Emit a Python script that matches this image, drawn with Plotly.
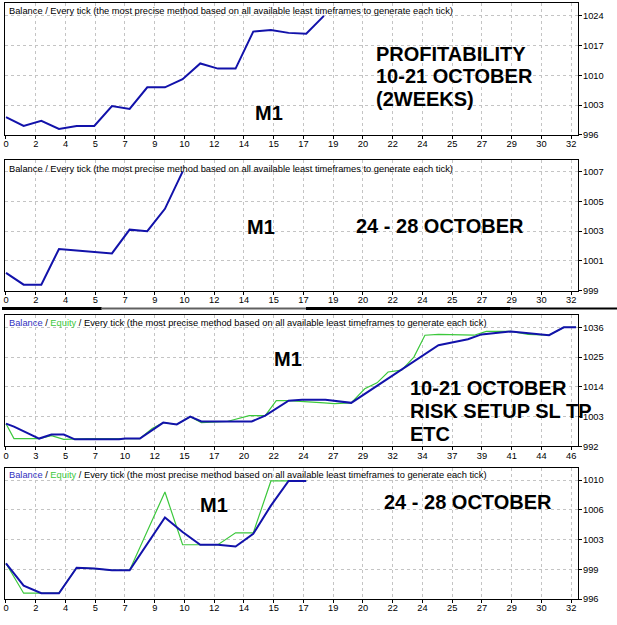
import plotly.graph_objects as go

W, H = 617, 625

# ---------------- data ----------------
# Panel 1: balance, 10-21 October
p1_trade = [0, 1, 2, 3, 4, 5, 6, 7, 8, 9, 10, 11, 12, 13, 14, 15, 16, 17, 18]
p1_balance = [1000.2, 998.1, 999.3, 997.4, 998.1, 998.1, 1002.8, 1002.1, 1007.2, 1007.2,
              1009.1, 1012.8, 1011.6, 1011.6, 1020.3, 1020.7, 1020.0, 1019.8, 1024.0]

# Panel 2: balance, 24-28 October
p2_trade = [0, 1, 2, 3, 4, 5, 6, 7, 8, 9, 10]
p2_balance = [1000.2, 999.4, 999.4, 1001.8, 1001.7, 1001.6, 1001.5, 1003.1, 1003.0, 1004.5, 1007.0]

# Panel 3: balance / equity, 10-21 October (risk setup)
p3_bal_x = [0, 0.65, 2.7, 3.7, 4.7, 5.6, 7.0, 9.2, 9.7, 10.9, 12.8, 13.9, 15.0, 15.9, 17.4,
            20.0, 21.1, 23.0, 24.1, 26.0, 28.1, 35.2, 37.6, 38.7, 41.1, 43.0, 44.2, 45.4, 46.4]
p3_bal_y = [1000.4, 999.3, 994.9, 996.4, 996.4, 994.6, 994.6, 994.6, 994.9, 994.9, 1000.8,
            1000.1, 1003.0, 1001.2, 1001.2, 1001.2, 1003.4, 1008.9, 1009.2, 1009.2, 1008.1,
            1029.4, 1031.6, 1033.4, 1034.5, 1033.8, 1033.1, 1036.0, 1036.0]
p3_eq_x = [0, 0.65, 2.7, 3.7, 4.7, 6.6, 9.2, 10.9, 11.9, 12.8, 13.9, 15.0, 15.9, 18.0, 19.8,
           21.1, 22.0, 23.0, 25.9, 26.7, 28.1, 29.2, 30.2, 31.1, 32.2, 33.2, 34.1, 35.2, 38.1,
           39.1, 41.1, 42.5, 44.2, 45.4, 46.4]
p3_eq_y = [1000.4, 994.9, 994.9, 996.0, 994.6, 994.9, 994.9, 994.9, 998.6, 1000.8, 1000.1,
           1003.0, 1000.8, 1001.2, 1003.4, 1003.4, 1008.9, 1008.9, 1008.1, 1007.8, 1008.1,
           1013.3, 1015.5, 1019.5, 1020.2, 1025.0, 1033.1, 1033.4, 1033.1, 1034.5, 1034.5,
           1033.4, 1033.1, 1036.0, 1036.0]

# Panel 4: balance / equity, 24-28 October
p4_trade = [0, 1, 2, 3, 4, 5, 6, 7, 9, 10, 11, 12, 13, 14, 15, 16, 17]
p4_balance = [1000.2, 997.6, 996.7, 996.7, 999.7, 999.6, 999.4, 999.4, 1005.6, 1003.9,
              1002.4, 1002.4, 1002.2, 1003.7, 1007.0, 1009.9, 1009.9]
p4_equity = [1000.2, 996.7, 996.7, 996.7, 999.7, 999.6, 999.4, 999.4, 1008.6, 1002.4,
             1002.4, 1002.4, 1003.8, 1003.8, 1009.9, 1009.9, 1009.9]

# tick labels
x_labels_32 = ["0", "2", "4", "5", "7", "9", "10", "12", "14", "15", "17", "19", "20", "22",
               "24", "25", "27", "29", "30", "32"]
x_labels_46 = ["0", "3", "5", "7", "10", "12", "15", "17", "20", "22", "24", "27", "29", "32",
               "34", "37", "39", "41", "44", "46"]
y1_ticks = [996, 1003, 1010, 1017, 1024]
y2_ticks = [999, 1001, 1003, 1005, 1007]
y3_ticks = [992, 1003, 1014, 1025, 1036]
y4_ticks = [996, 999.5, 1003, 1006.5, 1010]
y4_labels = ["996", "999", "1003", "1006", "1010"]

BLUE = "#1212aa"
GREEN = "#3cc83c"
FONT = "Liberation Sans"

# ---------------- geometry helpers ----------------
def px(x):
    return x / W


def py(y):
    return 1 - y / H


# plot boxes (left, top, right, bottom) in pixels
boxes = [(3, 3, 578, 136), (3, 161, 578, 293), (3, 318, 578, 450), (3, 472, 578, 604)]

fig = go.Figure()

fig.add_trace(go.Scatter(x=p1_trade, y=p1_balance, mode="lines",
                         line=dict(color=BLUE, width=2), xaxis="x", yaxis="y"))
fig.add_trace(go.Scatter(x=p2_trade, y=p2_balance, mode="lines",
                         line=dict(color=BLUE, width=2), xaxis="x2", yaxis="y2"))
fig.add_trace(go.Scatter(x=p3_eq_x, y=p3_eq_y, mode="lines",
                         line=dict(color=GREEN, width=1.2), xaxis="x3", yaxis="y3"))
fig.add_trace(go.Scatter(x=p3_bal_x, y=p3_bal_y, mode="lines",
                         line=dict(color=BLUE, width=2), xaxis="x3", yaxis="y3"))
fig.add_trace(go.Scatter(x=p4_trade, y=p4_equity, mode="lines",
                         line=dict(color=GREEN, width=1.2), xaxis="x4", yaxis="y4"))
fig.add_trace(go.Scatter(x=p4_trade, y=p4_balance, mode="lines",
                         line=dict(color=BLUE, width=2), xaxis="x4", yaxis="y4"))

# axis configuration
x_span = [(32, x_labels_32), (32, x_labels_32), (46, x_labels_46), (32, x_labels_32)]
# pixel position of first / last x tick label
X0_PX, XN_PX = 4, 571
y_cfg = [
    (y1_ticks, [str(v) for v in y1_ticks]),
    (y2_ticks, [str(v) for v in y2_ticks]),
    (y3_ticks, [str(v) for v in y3_ticks]),
    (y4_ticks, y4_labels),
]
# pixel row of first/last y tick in each panel
y_tick_px = [(136, 16), (293, 173), (450, 330), (604, 484)]

layout = dict(
    width=W, height=H, autosize=False,
    margin=dict(l=0, r=0, t=0, b=0),
    paper_bgcolor="white", plot_bgcolor="white",
    showlegend=False,
    font=dict(family=FONT, size=9, color="black"),
)

axis_common = dict(
    showline=True, linecolor="black", linewidth=1, mirror=True,
    showgrid=True, gridcolor="#c4c4c4", gridwidth=1, griddash="3px,3px",
    zeroline=False, ticks="outside", ticklen=3, tickcolor="black",
    tickfont=dict(family=FONT, size=9.3, color="black"),
)

for i, (l, t, r, b) in enumerate(boxes):
    n = "" if i == 0 else str(i + 1)
    xmax, xlabels = x_span[i]
    # x scale: tick 0 at X0_PX, tick xmax at XN_PX
    k = (XN_PX - X0_PX) / xmax
    xr = [(l - X0_PX) / k, (r - X0_PX) / k]
    tickvals_x = [xmax * j / (len(xlabels) - 1) for j in range(len(xlabels))]
    yt, ylabels = y_cfg[i]
    ybot_px, ytop_px = y_tick_px[i]
    ky = (ybot_px - ytop_px) / (yt[-1] - yt[0])
    yr = [yt[0] - (b - ybot_px) / ky, yt[0] + (ybot_px - t) / ky]
    layout["xaxis" + n] = dict(
        axis_common, domain=[px(l), px(r)], range=xr,
        tickvals=tickvals_x, ticktext=xlabels,
        anchor="y" + n, ticklabelstandoff=-3,
    )
    layout["yaxis" + n] = dict(
        axis_common, domain=[py(b), py(t)], range=yr,
        tickvals=yt, ticktext=ylabels, side="right",
        anchor="x" + n, ticklabelstandoff=-1,
    )

fig.update_layout(**layout)

# ---------------- annotations ----------------
ann = []
header_tail = " / Every tick (the most precise method based on all available least timeframes to generate each tick)"
headers = [
    ("Balance" + header_tail, 11),
    ("Balance" + header_tail, 170),
    (f"<span style='color:#3030c0'>Balance</span> / <span style='color:{GREEN}'>Equity</span>" + header_tail, 326),
    (f"<span style='color:#3030c0'>Balance</span> / <span style='color:{GREEN}'>Equity</span>" + header_tail, 479),
]
for text, y in headers:
    ann.append(dict(text=text, x=px(5), y=py(y), xref="paper", yref="paper",
                    xanchor="left", yanchor="middle", showarrow=False,
                    font=dict(family=FONT, size=9.3, color="black")))

big = dict(family=FONT, size=20, color="black")
labels = [
    ("<b>M1</b>", 268, 114, "center"),
    ("<b>PROFITABILITY</b>", 373, 54, "left"),
    ("<b>10-21 OCTOBER</b>", 373, 77, "left"),
    ("<b>(2WEEKS)</b>", 373, 100, "left"),
    ("<b>M1</b>", 260, 229, "center"),
    ("<b>24 - 28 OCTOBER</b>", 353, 228, "left"),
    ("<b>M1</b>", 287, 362, "center"),
    ("<b>10-21 OCTOBER</b>", 407, 391, "left"),
    ("<b>RISK SETUP SL TP</b>", 407, 414, "left"),
    ("<b>ETC</b>", 407, 437, "left"),
    ("<b>M1</b>", 213, 509, "center"),
    ("<b>24 - 28 OCTOBER</b>", 381, 506, "left"),
]
for text, x, y, anc in labels:
    ann.append(dict(text=text, x=px(x), y=py(y), xref="paper", yref="paper",
                    xanchor=anc, yanchor="middle", showarrow=False, font=big))

fig.update_layout(annotations=ann)

# separator line between the two halves
shapes = [
    dict(type="line", xref="paper", yref="paper", x0=0, x1=px(100), y0=py(311), y1=py(311),
         line=dict(color="black", width=3)),
    dict(type="line", xref="paper", yref="paper", x0=px(100), x1=px(305), y0=py(311), y1=py(311),
         line=dict(color="#606060", width=2)),
    dict(type="line", xref="paper", yref="paper", x0=px(305), x1=px(510), y0=py(311), y1=py(311),
         line=dict(color="black", width=3)),
    dict(type="line", xref="paper", yref="paper", x0=px(510), x1=1, y0=py(311), y1=py(311),
         line=dict(color="black", width=2)),
]
fig.update_layout(shapes=shapes)

fig.write_html("out.html")
